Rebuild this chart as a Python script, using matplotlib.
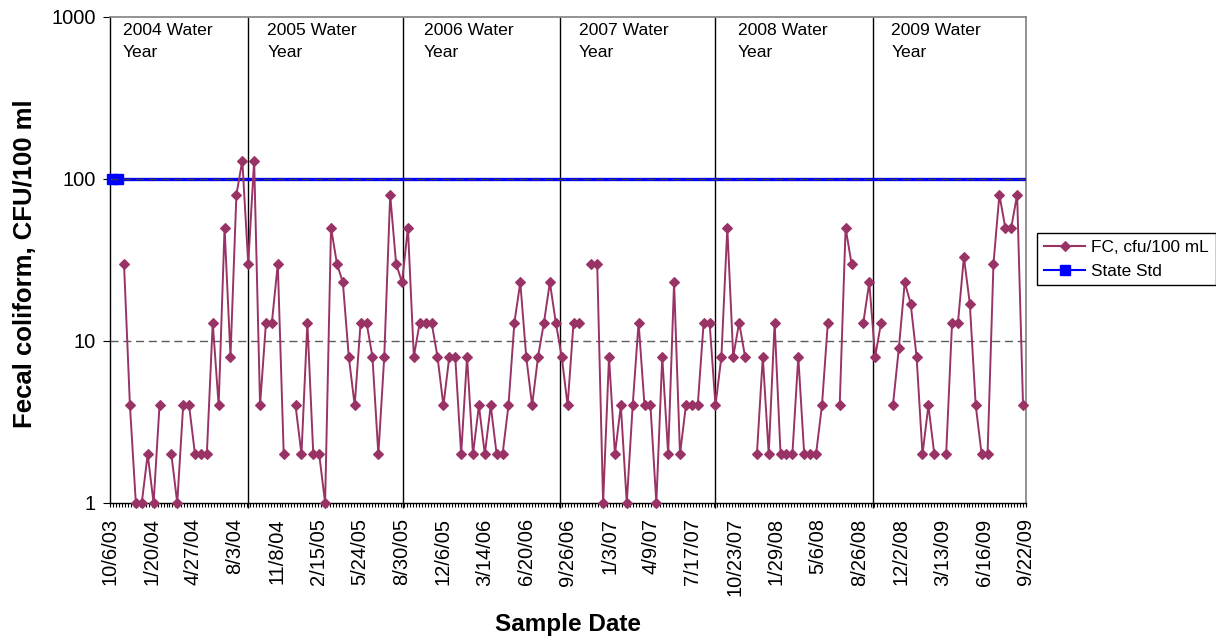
import numpy as np
import matplotlib
matplotlib.use("Agg")
import matplotlib.pyplot as plt
from matplotlib.lines import Line2D
from matplotlib.ticker import NullLocator

plt.rcParams['font.family'] = ['Liberation Sans', 'DejaVu Sans']

# ---------------- data ----------------
# Fecal coliform samples (cfu/100 mL), in sampling order; None = no sample
fc_values = [
    30, 4, 1, 1, 2, 1, 4, None, 2, 1, 4, 4, 2, 2, 2, 13, 4, 50, 8, 80, 130, 30,      # WY2004
    130, 4, 13, 13, 30, 2, None, 4, 2, 13, 2, 2, 1, 50, 30, 23, 8, 4, 13, 13, 8,
    2, 8, 80, 30, 23,                                                               # WY2005
    50, 8, 13, 13, 13, 8, 4, 8, 8, 2, 8, 2, 4, 2, 4, 2, 2, 4, 13, 23, 8, 4, 8, 13,
    23, 13, 8,                                                                      # WY2006
    4, 13, 13, None, 30, 30, 1, 8, 2, 4, 1, 4, 13, 4, 4, 1, 8, 2, 23, 2, 4, 4, 4,
    13, 13, 4,                                                                      # WY2007
    8, 50, 8, 13, 8, None, 2, 8, 2, 13, 2, 2, 2, 8, 2, 2, 2, 4, 13, None, 4, 50,
    30, None, 13, 23, 8,                                                            # WY2008
    13, None, 4, 9, 23, 17, 8, 2, 4, 2, None, 2, 13, 13, 33, 17, 4, 2, 2, 30, 80,
    50, 50, 80, 4,                                                                  # WY2009
]
state_std = 100
date_labels = ["10/6/03", "1/20/04", "4/27/04", "8/3/04", "11/8/04", "2/15/05",
               "5/24/05", "8/30/05", "12/6/05", "3/14/06", "6/20/06", "9/26/06",
               "1/3/07", "4/9/07", "7/17/07", "10/23/07", "1/29/08", "5/6/08",
               "8/26/08", "12/2/08", "3/13/09", "6/16/09", "9/22/09"]
water_years = ["2004", "2005", "2006", "2007", "2008", "2009"]
# water-year boundaries, in sample-slot units
wy_bounds = [21.0, 47.1, 73.7, 100.0, 126.6]
y_ticks = [1, 10, 100, 1000]

# ---------------- layout ----------------
W, H = 1216, 641
X_MIN, X_MAX = -2.37, 152.5
wy_label_x = [-0.2, 24.2, 50.7, 76.9, 103.8, 129.7]
std_marker_x = [-2.0, -1.0]

fig = plt.figure(figsize=(W / 100, H / 100), dpi=100)
ax = fig.add_axes([110 / W, 1 - 503 / H, 916 / W, 486 / H])

fc = np.array([np.nan if v is None else v for v in fc_values], dtype=float)
x = np.arange(len(fc))

ax.set_yscale('log')
ax.set_ylim(1, 1000)
ax.set_xlim(X_MIN, X_MAX)

# water-year separators
ax.vlines(wy_bounds, 0.93, 1000, color='black', lw=1.0, zorder=2, clip_on=False)

# state standard
ax.plot([X_MIN, X_MAX], [state_std, state_std], color='#0000FF', lw=2.4, zorder=3)
ax.plot(std_marker_x, [state_std] * len(std_marker_x), ls='none', marker='s', ms=7.2,
        color='#0000FF', zorder=3, clip_on=False)

# gridlines at 10 and 100 (dashes visible over the standard line)
for g in y_ticks[1:-1]:
    ax.axhline(g, color='#404040', lw=1.0, dashes=(5.8, 3.4), zorder=3.5, alpha=0.85)

# FC series
ax.plot(x, fc, color='#993366', lw=1.4, marker='D', ms=4.6, mfc='#993366',
        mec='#993366', mew=0.8, zorder=4, clip_on=False)

# water-year labels
for lx, wy in zip(wy_label_x, water_years):
    ax.text(lx, 0.987, f"{wy} Water\nYear", transform=ax.get_xaxis_transform(),
            ha='left', va='top', fontsize=12.6, linespacing=1.55, zorder=5)

# axes styling
for s in ['left', 'bottom']:
    ax.spines[s].set_color('black')
    ax.spines[s].set_linewidth(1.0)
for s in ['top', 'right']:
    ax.spines[s].set_color('#808080')
    ax.spines[s].set_linewidth(1.2)

ax.set_yticks(y_ticks)
ax.set_yticklabels([str(v) for v in y_ticks])
ax.yaxis.set_minor_locator(NullLocator())
ax.tick_params(axis='y', which='major', length=5, width=0.8, direction='out',
               pad=5, labelsize=14.5)

ax.set_xticks(np.linspace(X_MIN, X_MAX, len(date_labels)))
ax.set_xticklabels(date_labels, rotation=90)
ax.set_xticks(np.linspace(X_MIN, X_MAX, (len(date_labels) - 1) * 14 + 1), minor=True)
ax.tick_params(axis='x', which='both', length=3, width=0.8, direction='out',
               pad=8, labelsize=14.5)

fig.text(25 / W, 1 - 264 / H, "Fecal coliform, CFU/100 ml", rotation=90,
         ha='center', va='center', fontsize=18.5, fontweight='bold')
fig.text(568 / W, 1 - 625 / H, "Sample Date", ha='center', va='center',
         fontsize=17.5, fontweight='bold')

handles = [
    Line2D([], [], color='#993366', lw=1.5, marker='D', ms=4.6, mew=0.8),
    Line2D([], [], color='#0000FF', lw=1.5, marker='s', ms=6.5),
]
leg = fig.legend(handles, ["FC, cfu/100 mL", "State Std"], loc='upper left',
                 bbox_to_anchor=(1037 / W, 1 - 233 / H), bbox_transform=fig.transFigure,
                 borderaxespad=0, fontsize=12.4, frameon=True, fancybox=False,
                 framealpha=1, edgecolor='black', handlelength=2.4,
                 handletextpad=0.35, borderpad=0.4, labelspacing=0.5)
leg.get_frame().set_linewidth(1.0)

fig.savefig("out.png", dpi=100)
